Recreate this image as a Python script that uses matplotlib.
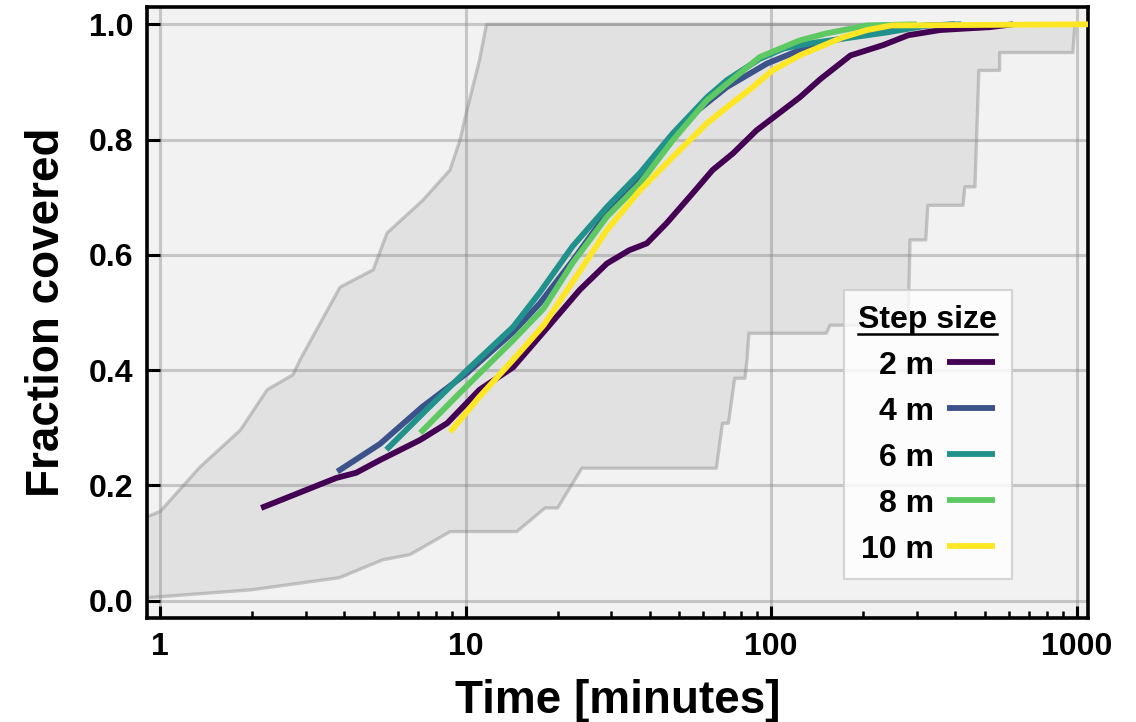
#!/usr/bin/env python3
# -*- coding:utf-8 -*-
import numpy as np
import matplotlib
matplotlib.use("Agg")
import matplotlib.pyplot as plt
from matplotlib.lines import Line2D

plt.rcParams['font.family'] = ['Liberation Sans', 'DejaVu Sans']
plt.rcParams['font.weight'] = 'bold'

# envelope of all runs (upper / lower)
upper_t = [0.9, 1.0, 1.35, 1.83, 2.24, 2.72, 2.87, 3.88, 4.98, 5.53, 7.25, 8.88, 9.58, 10.1, 11.1, 11.7, 1100]
upper_f = [0.145, 0.155, 0.232, 0.296, 0.366, 0.392, 0.418, 0.544, 0.574, 0.638, 0.695, 0.747, 0.799, 0.851, 0.938, 1.0, 1.0]

lower_t = [0.9, 1.0, 1.99, 3.86, 5.35, 6.57, 8.9, 14.7, 18.2, 20.0, 24.0, 66.2, 69.3, 72.5, 76.0, 82.1, 83.4,
           84.6, 151.6, 156, 281, 285, 321, 326, 425, 431, 465, 479, 560, 560, 973, 988, 1100]
lower_f = [0.005, 0.007, 0.019, 0.040, 0.071, 0.080, 0.120, 0.120, 0.161, 0.161, 0.230, 0.230, 0.308, 0.308,
           0.386, 0.386, 0.418, 0.464, 0.464, 0.478, 0.478, 0.626, 0.626, 0.686, 0.686, 0.718, 0.718, 0.920,
           0.920, 0.951, 0.951, 1.0, 1.0]

# mean curves per step size
t2 = [2.14, 3.77, 4.38, 5.24, 7.1, 8.7, 11.1, 14.3, 18.6, 23.6, 29.0, 34.3, 39.2, 45.5, 55.4, 64.3, 75.0,
      89.6, 101, 124, 145, 182, 233, 281, 357, 444, 519, 620]
f2 = [0.161, 0.213, 0.222, 0.244, 0.279, 0.308, 0.366, 0.405, 0.475, 0.539, 0.585, 0.608, 0.620, 0.655,
      0.707, 0.747, 0.776, 0.816, 0.837, 0.873, 0.905, 0.946, 0.964, 0.981, 0.990, 0.993, 0.995, 1.0]

t4 = [3.8, 5.24, 7.2, 10.1, 14.3, 17.5, 22.4, 29.0, 37.2, 45.0, 54.0, 71.6, 97, 124, 160, 220, 300, 400]
f4 = [0.224, 0.272, 0.336, 0.395, 0.466, 0.516, 0.590, 0.672, 0.735, 0.790, 0.839, 0.891, 0.932, 0.955,
      0.972, 0.988, 0.997, 1.0]

t6 = [5.5, 7.6, 10.1, 14.3, 17.5, 22.4, 29.0, 37.2, 47.7, 61.6, 71.6, 91.7, 110, 134, 177, 240, 326, 420]
f6 = [0.262, 0.336, 0.400, 0.475, 0.535, 0.615, 0.683, 0.742, 0.811, 0.873, 0.903, 0.940, 0.958, 0.967,
      0.976, 0.986, 0.998, 1.0]

t8 = [7.1, 9.8, 14.3, 18.0, 22.4, 29.0, 37.2, 47.7, 61.6, 79, 91.7, 124, 151, 206, 300]
f8 = [0.291, 0.366, 0.452, 0.507, 0.586, 0.666, 0.724, 0.799, 0.868, 0.915, 0.943, 0.972, 0.984, 0.998, 1.0]

t10 = [8.9, 11.1, 14.3, 18.0, 22.4, 29.0, 37.2, 47.7, 54.2, 61.6, 71.6, 87.1, 101, 124, 171, 206, 248, 1100]
f10 = [0.293, 0.354, 0.418, 0.478, 0.553, 0.643, 0.712, 0.770, 0.799, 0.828, 0.856, 0.891, 0.920, 0.946,
       0.977, 0.990, 0.998, 1.0]

labels = ['2 m', '4 m', '6 m', '8 m', '10 m']
colors = ['#440154', '#3b528b', '#21918c', '#5ec962', '#fde725']

fig = plt.figure(figsize=(11.36, 7.22), dpi=100)
ax = fig.add_axes([0.1294, 0.144, 0.8283, 0.8463])
ax.set_facecolor('#f2f2f2')

# shaded band
poly_t = np.concatenate([upper_t, lower_t[::-1]])
poly_f = np.concatenate([upper_f, lower_f[::-1]])
ax.fill(poly_t, poly_f, color='gray', alpha=0.15, lw=0, zorder=1)
ax.plot(upper_t, upper_f, color='gray', alpha=0.4, lw=2.4, zorder=2)
ax.plot(lower_t, lower_f, color='gray', alpha=0.4, lw=2.4, zorder=2)

for t, f, c, lab in zip([t2, t4, t6, t8, t10], [f2, f4, f6, f8, f10], colors, labels):
    ax.plot(t, f, color=c, lw=4.2, label=lab, zorder=3, solid_capstyle='butt')

ax.set_xscale('log')
ax.set_xlim(0.905, 1090)
ax.set_ylim(-0.03, 1.03)
ax.set_xticks([1, 10, 100, 1000], labels=['1', '10', '100', '1000'])
ax.set_yticks(np.arange(0, 1.01, 0.2), labels=['%.1f' % v for v in np.arange(0, 1.01, 0.2)])
ax.grid(True, which='major', color='gray', alpha=0.38, lw=2.2)
ax.set_axisbelow(True)

ax.tick_params(which='major', direction='in', length=9, width=2.2, pad=10, labelsize=23)
ax.tick_params(which='minor', direction='in', length=5, width=1.8)
ax.tick_params(top=False, right=False, which='both')
for s in ax.spines.values():
    s.set_linewidth(2.6)

ax.set_xlabel('Time [minutes]', fontsize=33, fontweight='bold', labelpad=12)
ax.set_ylabel('Fraction covered', fontsize=33, fontweight='bold', labelpad=14)

leg = ax.legend(loc='lower right', bbox_to_anchor=(0.919, 0.064), borderaxespad=0, markerfirst=False,
                prop={'weight': 'bold', 'size': 23}, title='Step size',
                title_fontproperties={'weight': 'bold', 'size': 23},
                handlelength=1.5, handletextpad=0.4, labelspacing=0.5, borderpad=0.45,
                fancybox=False, framealpha=0.8, edgecolor='#cccccc')
leg.get_frame().set_linewidth(1.5)

# underline the legend title
fig.canvas.draw()
bb = leg.get_title().get_window_extent().transformed(fig.transFigure.inverted())
fig.add_artist(Line2D([bb.x0, bb.x1], [bb.y0 + 0.001, bb.y0 + 0.001], transform=fig.transFigure,
                      color='black', lw=1.8))

fig.savefig('out.png', dpi=100)
